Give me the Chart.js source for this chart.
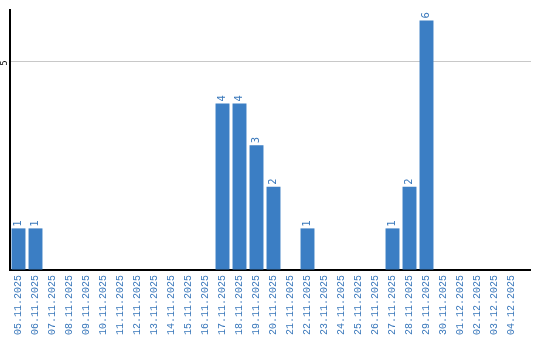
<!DOCTYPE html>
<html>
<head>
<meta charset="utf-8">
<script src="https://cdn.jsdelivr.net/npm/chart.js@4/dist/chart.umd.min.js"></script>
<style>
html,body{margin:0;padding:0;background:#fff;}
#wrap{width:540px;height:340px;position:relative;}
</style>
</head>
<body>
<div id="wrap"><canvas id="c" width="540" height="340"></canvas></div>
<script>
const categories = ["05.11.2025","06.11.2025","07.11.2025","08.11.2025","09.11.2025","10.11.2025","11.11.2025","12.11.2025","13.11.2025","14.11.2025","15.11.2025","16.11.2025","17.11.2025","18.11.2025","19.11.2025","20.11.2025","21.11.2025","22.11.2025","23.11.2025","24.11.2025","25.11.2025","26.11.2025","27.11.2025","28.11.2025","29.11.2025","30.11.2025","01.12.2025","02.12.2025","03.12.2025","04.12.2025"];
const counts = [1,1,0,0,0,0,0,0,0,0,0,0,4,4,3,2,0,1,0,0,0,0,1,2,6,0,0,0,0,0];
const yTicks = [5];
const yMax = 6.25;

const BLUE = '#3b7ec4';
const LABEL_BLUE = '#3a78bb';
const AXIS_END_X = 531;

function alignPx(p, w) { return Math.round(p - w / 2) + w / 2; }

const labelPlugin = {
  id: 'valueLabels',
  beforeDatasetsDraw(chart) {
    const ctx = chart.ctx;
    const ys = chart.scales.y;
    const a = chart.chartArea;
    ctx.save();
    ctx.strokeStyle = '#c8c8c8';
    ctx.lineWidth = 1;
    yTicks.forEach(t => {
      const py = alignPx(ys.getPixelForValue(t), 1);
      ctx.beginPath();
      ctx.moveTo(a.right - 1, py);
      ctx.lineTo(AXIS_END_X, py);
      ctx.stroke();
    });
    ctx.restore();
  },
  afterDatasetsDraw(chart) {
    const ctx = chart.ctx;
    const meta = chart.getDatasetMeta(0);
    const a = chart.chartArea;
    const ys = chart.scales.y;
    ctx.save();
    ctx.strokeStyle = '#000';
    ctx.lineWidth = 2;
    const by = alignPx(ys.getPixelForValue(0), 2);
    ctx.beginPath();
    ctx.moveTo(a.right - 1, by);
    ctx.lineTo(AXIS_END_X, by);
    ctx.stroke();

    ctx.font = '10px "DejaVu Sans", sans-serif';
    ctx.fillStyle = LABEL_BLUE;
    ctx.textAlign = 'left';
    ctx.textBaseline = 'middle';
    meta.data.forEach((bar, i) => {
      const v = counts[i];
      if (!v) return;
      ctx.save();
      ctx.translate(bar.x, bar.y - 2);
      ctx.rotate(-Math.PI / 2);
      ctx.fillText(String(v), 0, 0);
      ctx.restore();
    });
    ctx.fillStyle = '#000';
    ctx.font = '8px "DejaVu Sans", sans-serif';
    ctx.textAlign = 'center';
    ctx.textBaseline = 'middle';
    yTicks.forEach(t => {
      ctx.save();
      ctx.translate(5, ys.getPixelForValue(t) + 1);
      ctx.rotate(-Math.PI / 2);
      ctx.fillText(String(t), 0, 0);
      ctx.restore();
    });
    ctx.restore();
  }
};

new Chart(document.getElementById('c'), {
  type: 'bar',
  data: {
    labels: categories,
    datasets: [{
      data: counts,
      backgroundColor: BLUE,
      borderWidth: 0,
      barPercentage: 0.82,
      categoryPercentage: 1.0
    }]
  },
  options: {
    responsive: false,
    animation: false,
    devicePixelRatio: 1,
    layout: { padding: { top: 10, right: 20, left: 0, bottom: 0 } },
    plugins: { legend: { display: false }, tooltip: { enabled: false } },
    scales: {
      x: {
        grid: { display: false, drawTicks: false },
        border: { display: true, color: '#000', width: 2 },
        ticks: {
          color: LABEL_BLUE,
          font: { family: '"Liberation Mono", "DejaVu Sans Mono", monospace', size: 10 },
          minRotation: 90,
          maxRotation: 90,
          autoSkip: false,
          padding: 5
        },
        afterFit(scale) { scale.height = 70; }
      },
      y: {
        min: 0,
        max: yMax,
        ticks: { display: false, stepSize: 5 },
        grid: {
          drawTicks: false,
          color: ctx => (ctx.tick && yTicks.includes(ctx.tick.value)) ? '#c8c8c8' : 'rgba(0,0,0,0)',
          lineWidth: 1
        },
        border: { display: true, color: '#000', width: 2 },
        afterFit(scale) { scale.width = 10; }
      }
    }
  },
  plugins: [labelPlugin]
});
</script>
</body>
</html>
